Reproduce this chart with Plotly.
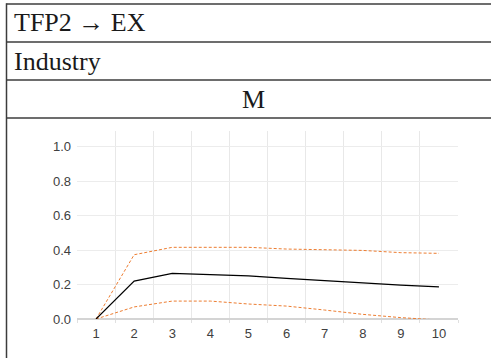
import plotly.graph_objects as go

periods = [1, 2, 3, 4, 5, 6, 7, 8, 9, 10]
response = [0.0, 0.22, 0.265, 0.259, 0.25, 0.236, 0.222, 0.211, 0.197, 0.186]
upper = [0.0, 0.373, 0.416, 0.416, 0.416, 0.406, 0.400, 0.398, 0.385, 0.381]
lower = [0.0, 0.070, 0.104, 0.104, 0.087, 0.075, 0.052, 0.027, 0.008, -0.006]
y_ticks = [0.0, 0.2, 0.4, 0.6, 0.8, 1.0]
title_row1 = "TFP2 → EX"
title_row2 = "Industry"
title_row3 = "M"

W, H = 491, 358
L, R, T, B = 77, 458, 131, 319

def px(x):
    return (x - L) / (R - L)

def py(y):
    return (B - y) / (B - T)

orange = "#ED7D31"
fig = go.Figure()
fig.add_trace(go.Scatter(x=periods, y=upper, mode="lines",
                         line=dict(color=orange, width=1, dash="3px,2px"), showlegend=False))
fig.add_trace(go.Scatter(x=periods, y=lower, mode="lines",
                         line=dict(color=orange, width=1, dash="3px,2px"), showlegend=False))
fig.add_trace(go.Scatter(x=periods, y=response, mode="lines",
                         line=dict(color="#000000", width=1.2), showlegend=False))

shapes = []
border = dict(color="#3c3c3c", width=1.5)
for yy in [4, 42, 80, 118]:
    shapes.append(dict(type="line", xref="paper", yref="paper",
                       x0=px(6.5), x1=px(W + 5), y0=py(yy), y1=py(yy), line=border))
shapes.append(dict(type="line", xref="paper", yref="paper",
                   x0=px(6.5), x1=px(6.5), y0=py(3.3), y1=py(H + 5), line=border))

font_serif = dict(family="Liberation Serif", size=26, color="#1a1a1a")
annotations = [
    dict(text=title_row1, xref="paper", yref="paper", x=px(12), y=py(23),
         xanchor="left", yanchor="middle", showarrow=False, font=font_serif),
    dict(text=title_row2, xref="paper", yref="paper", x=px(12), y=py(61),
         xanchor="left", yanchor="middle", showarrow=False, font=font_serif),
    dict(text=title_row3, xref="paper", yref="paper", x=px(253), y=py(99),
         xanchor="center", yanchor="middle", showarrow=False, font=font_serif),
]

tickfont = dict(family="Liberation Sans", size=13, color="#404040")
fig.update_layout(
    width=W, height=H,
    margin=dict(l=L, r=W - R, t=T, b=H - B, pad=0),
    paper_bgcolor="white", plot_bgcolor="white",
    shapes=shapes, annotations=annotations,
    xaxis=dict(range=[0.5, 10.5], tickvals=periods, ticktext=[str(p) for p in periods],
               showgrid=False, zeroline=False, showline=False, ticks="",
               tickfont=tickfont, ticklabelstandoff=5,
               minor=dict(tick0=0.5, dtick=1, showgrid=True, gridcolor="#e8e8e8",
                          gridwidth=1, ticks="outside", ticklen=3, tickcolor="#e0e0e0")),
    yaxis=dict(range=[0, (B - T) / 172.3], tickvals=y_ticks,
               ticktext=[f"{v:.1f}" for v in y_ticks],
               showgrid=True, gridcolor="#ececec", gridwidth=1,
               zeroline=True, zerolinecolor="#d4d4d4", zerolinewidth=1.5,
               showline=False, ticks="", tickfont=tickfont, ticklabelstandoff=5),
)

fig.write_html("out.html", config={"displayModeBar": False},
               post_script="document.body.style.margin='0';document.body.style.padding='0';")
